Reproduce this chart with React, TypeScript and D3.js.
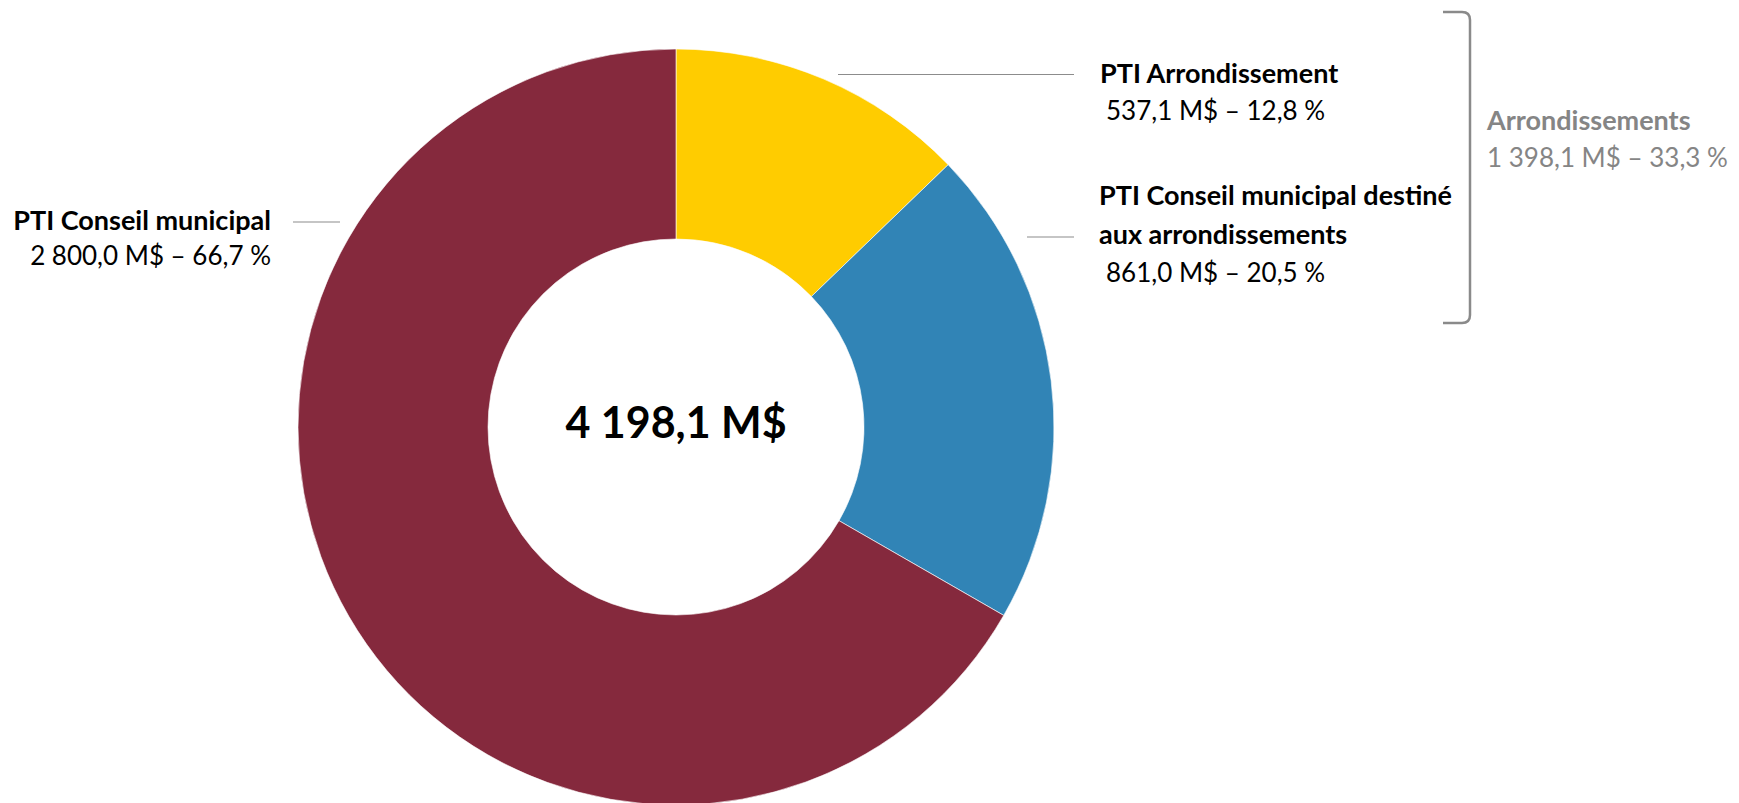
import React from "react";
import * as d3 from "d3";

const categories = [
  "PTI Arrondissement",
  "PTI Conseil municipal destiné aux arrondissements",
  "PTI Conseil municipal",
];
const values = [537.1, 861.0, 2800.0];
const percents = [12.8, 20.5, 66.7];
const colors = ["#FFCC00", "#3184B6", "#85293D"];
const totalLabel = "4 198,1 M$";
const groupName = "Arrondissements";
const groupValue = 1398.1;
const groupPercent = 33.3;

const fmt = (v: number) => {
  const s = v.toFixed(1).replace(".", ",");
  const [i, d] = s.split(",");
  return i.replace(/\B(?=(\d{3})+(?!\d))/g, " ") + "," + d;
};
const valueLine = (v: number, p: number) => `${fmt(v)} M$ – ${fmt(p)} %`;

const W = 1739;
const H = 803;
const cx = 676;
const cy = 427;
const outerR = 378;
const innerR = 188;
const FONT = "Lato, 'Open Sans', sans-serif";
const FS = 27;
const FSV = 26;

export default function App() {
  const pie = d3
    .pie<number>()
    .sort(null)
    .value((d) => d)(values);
  const arc = d3.arc<d3.PieArcDatum<number>>().innerRadius(innerR).outerRadius(outerR);
  const leader = "#8c8c8c";

  return (
    <svg
      width={W}
      height={H}
      style={{ position: "absolute", left: 0, top: 0, background: "#fff" }}
      fontFamily={FONT}
    >
      <g transform={`translate(${cx},${cy})`}>
        {pie.map((p, i) => (
          <path key={i} d={arc(p) || ""} fill={colors[i]} stroke="#fff" strokeWidth={0.6} />
        ))}
        <text x={0} y={11} textAnchor="middle" fontSize={43} fontWeight={700} fill="#000">
          {totalLabel}
        </text>
      </g>

      {/* PTI Conseil municipal */}
      <line x1={293} x2={340} y1={222} y2={222} stroke={leader} strokeWidth={1.2} />
      <text x={271} y={230} textAnchor="end" fontSize={FS} fontWeight={700} fill="#000">
        {categories[2]}
      </text>
      <text x={271} y={265} textAnchor="end" fontSize={FSV} fill="#000">
        {valueLine(values[2], percents[2])}
      </text>

      {/* PTI Arrondissement */}
      <line x1={838} x2={1074} y1={74.5} y2={74.5} stroke={leader} strokeWidth={1.2} />
      <text x={1100} y={83} fontSize={FS} fontWeight={700} fill="#000">
        {categories[0]}
      </text>
      <text x={1106} y={120} fontSize={FSV} fill="#000">
        {valueLine(values[0], percents[0])}
      </text>

      {/* PTI Conseil municipal destiné aux arrondissements */}
      <line x1={1027} x2={1074} y1={237} y2={237} stroke={leader} strokeWidth={1.2} />
      <text x={1099} y={205} fontSize={FS} fontWeight={700} fill="#000">
        PTI Conseil municipal destiné
      </text>
      <text x={1099} y={244} fontSize={FS} fontWeight={700} fill="#000">
        aux arrondissements
      </text>
      <text x={1106} y={282} fontSize={FSV} fill="#000">
        {valueLine(values[1], percents[1])}
      </text>

      {/* Bracket */}
      <path
        d="M1443,12 L1462,12 Q1470,12 1470,20 L1470,315 Q1470,323 1462,323 L1443,323"
        fill="none"
        stroke="#8a8a8a"
        strokeWidth={2.5}
      />
      <text x={1487} y={130} fontSize={FS} fontWeight={700} fill="#858585">
        {groupName}
      </text>
      <text x={1487} y={167} fontSize={FSV} fill="#858585">
        {valueLine(groupValue, groupPercent)}
      </text>
    </svg>
  );
}
